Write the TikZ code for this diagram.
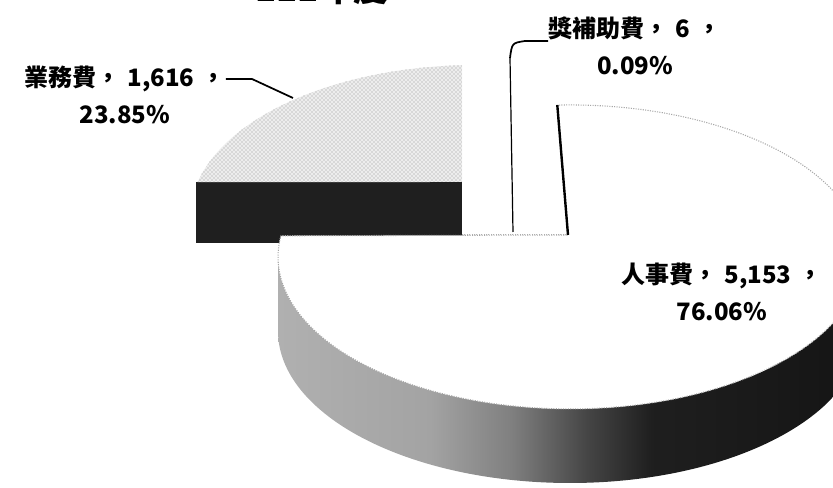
\documentclass[tikz,border=0pt]{standalone}
\usepackage{fontspec}
\usetikzlibrary{patterns}
\newfontfamily\cjk{Noto Sans CJK TC}
\pgfdeclarehorizontalshading{sideshade}{100bp}{color(0bp)=(gray!62); color(25bp)=(gray!62); color(38bp)=(gray!72); color(45bp)=(black!50); color(51.5bp)=(black!73); color(57bp)=(black!88); color(75bp)=(black!92); color(100bp)=(black!92)}
\newcommand{\gap}{\hspace{0.3em}}

\begin{document}
\begin{tikzpicture}[x=0.75pt,y=0.75pt,
    lbl/.style={font=\cjk\bfseries\fontsize{18}{28}\selectfont, align=center, inner sep=0pt},
    leader/.style={draw=black, line width=1.3pt},
    topface/.style={draw=gray!70, densely dotted, line width=0.8pt}]
  \useasboundingbox (0,0) rectangle (833,488);
  \clip (0,0) rectangle (833,488);
  % title, cut off by the top edge
  \node[font=\cjk\bfseries\fontsize{26}{30}\selectfont] (title) at (322,500) {111年度};
  % 業務費 slice
  \coordinate (bizapex) at (462,306);
  \coordinate (biztop) at (462.1,422.8);
  \fill[black!88] (196,245) rectangle (bizapex);
  \fill[gray!14, postaction={pattern=crosshatch dots, pattern color=gray!85}]
    (bizapex) -- (biztop) arc[start angle=92.6, end angle=166.7, x radius=285, y radius=152] -- cycle;
  % 獎補助費 sliver
  \draw[gray!60, densely dotted, line width=0.8pt] (462,253) -- (568,253);
  % 人事費 slice, side then top
  \shade[shading=sideshade] (278,231) -- (278,157)
    arc[start angle=180, end angle=360, x radius=292, y radius=152] -- (862,231)
    arc[start angle=0, end angle=-180, x radius=292, y radius=152] -- cycle;
  \coordinate (perapex) at (568,253);
  \coordinate (pertop) at (557.3,382.9);
  \path[fill=white, topface] (perapex) -- (pertop)
    arc[start angle=92.5, end angle=-188, x radius=292, y radius=152] -- cycle;
  \draw[black, line width=1.8pt] (pertop) -- (perapex);
  % labels
  \node[lbl] (lblbiz) at (125,393) {業務費，\gap 1,616\gap ，\\23.85\%};
  \node[lbl] (lblsub) at (635,442) {獎補助費，\gap 6\gap ，\\0.09\%};
  \node[lbl] (lblper) at (722,196) {人事費，\gap 5,153\gap ，\\76.06\%};
  % leaders
  \coordinate (bizbend) at (252,409);
  \coordinate (bizpoint) at (293,390);
  \draw[leader] (lblbiz.east |- bizbend) -- (bizbend) -- (bizpoint);
  \coordinate (subbend) at (525,447);
  \coordinate (subtop) at (510,430);
  \coordinate (subfoot) at (513,256);
  \draw[leader] (lblsub.west |- subbend) -- (subbend) .. controls (512,445) .. (subtop);
  \draw[black, line width=0.9pt] (subtop) -- (subfoot);
\end{tikzpicture}
\end{document}
